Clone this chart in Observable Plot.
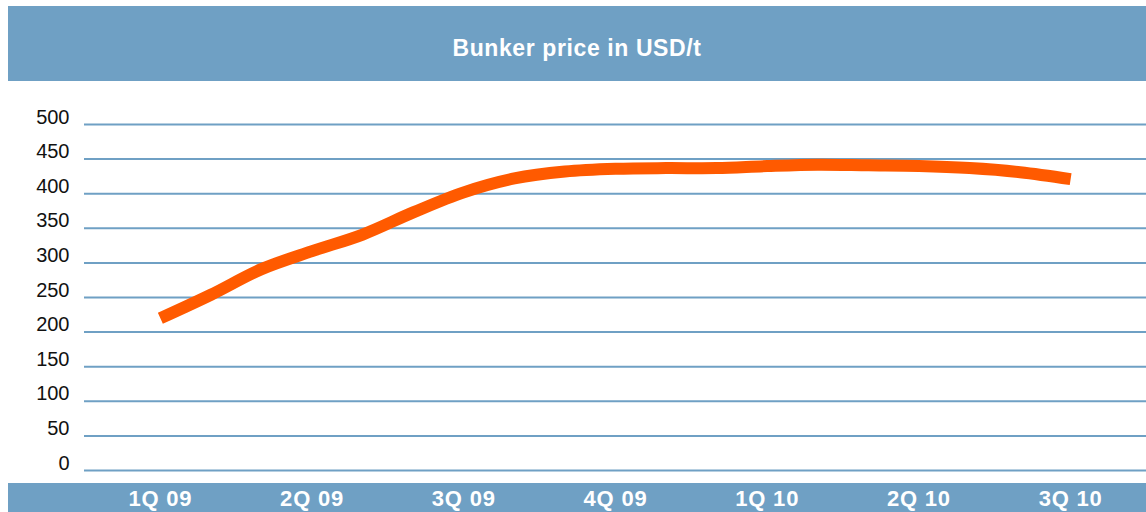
<!DOCTYPE html>
<html>
<head>
<meta charset="utf-8">
<script src="https://cdn.jsdelivr.net/npm/d3@7"></script>
<script src="https://cdn.jsdelivr.net/npm/@observablehq/plot@0.6"></script>
<style>
  html, body { margin: 0; padding: 0; background: #fff; }
  #wrap { position: relative; width: 1146px; height: 512px; overflow: hidden; font-family: "Liberation Sans", Arial, Helvetica, sans-serif; }
  .band { position: absolute; left: 8px; width: 1138px; background: #6FA0C4; }
  #titleband { top: 6px; height: 75px; }
  #titleband span { position: absolute; left: 0; right: 0; top: 31px; text-align: center; line-height: 1; color: #fff; font-weight: bold; font-size: 23px; letter-spacing: 0.6px; }
  #bottomband { top: 483px; height: 29px; }
  #chart { position: absolute; left: 0; top: 0; }
  #chart svg g[aria-label="x-axis tick label"] text { letter-spacing: 0.8px; }
</style>
</head>
<body>
<div id="wrap">
  <div class="band" id="titleband"><span id="title"></span></div>
  <div class="band" id="bottomband"></div>
  <div id="chart"></div>
</div>
<script>
const title = "Bunker price in USD/t";
const quarters = ["1Q 09", "2Q 09", "3Q 09", "4Q 09", "1Q 10", "2Q 10", "3Q 10"];
const yTicks = [0, 50, 100, 150, 200, 250, 300, 350, 400, 450, 500];
// monthly bunker price, Jan 09 .. Jul 10
const months = ["Jan 09","Feb 09","Mar 09","Apr 09","May 09","Jun 09","Jul 09","Aug 09","Sep 09","Oct 09",
  "Nov 09","Dec 09","Jan 10","Feb 10","Mar 10","Apr 10","May 10","Jun 10","Jul 10"];
const prices = [220, 254, 291, 317, 341, 373, 402, 422, 432, 436, 437, 437, 440, 442, 441, 440, 437, 431, 421];

document.getElementById("title").textContent = title;

const data = months.map((m, i) => ({month: m, q: i / 3, price: prices[i]}));

const blue = "#6FA0C4";
const chart = Plot.plot({
  width: 1146,
  height: 512,
  marginLeft: 84,
  marginRight: 0,
  marginTop: 124,
  marginBottom: 42,
  style: "background: transparent; overflow: visible; font-family: 'Liberation Sans', Arial, Helvetica, sans-serif;",
  x: {domain: [-0.5, quarters.length - 0.5]},
  y: {domain: [0, 500]},
  marks: [
    Plot.ruleY(yTicks, {stroke: blue, strokeWidth: 2}),
    Plot.axisY({ticks: yTicks, tickSize: 0, tickPadding: 15, fontSize: 20, fill: "#111", lineAnchor: "bottom", dy: -1, label: null}),
    Plot.axisX({ticks: d3.range(quarters.length), tickFormat: (d) => quarters[d], tickSize: 0, tickPadding: 20, fontSize: 22, fontWeight: "bold", fill: "#fff", label: null}),
    Plot.line(data, {x: "q", y: "price", curve: "catmull-rom", stroke: "#FF5A00", strokeWidth: 12, strokeLinecap: "butt", strokeLinejoin: "round"})
  ]
});
document.getElementById("chart").appendChild(chart);
</script>
</body>
</html>
